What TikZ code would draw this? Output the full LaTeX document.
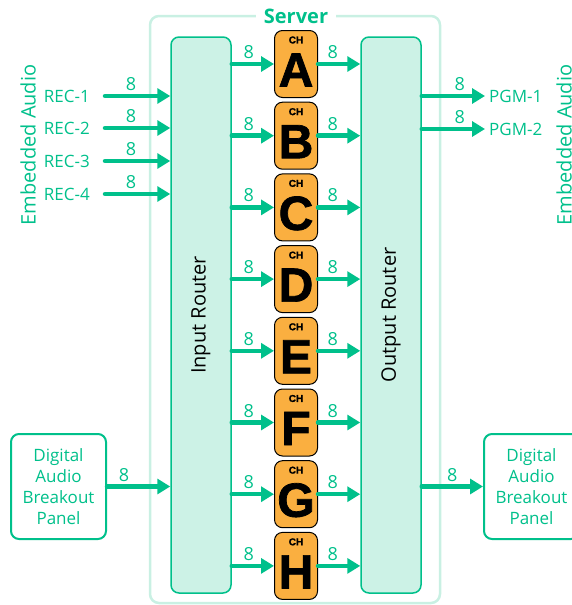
\documentclass[tikz,border=0pt]{standalone}
\usepackage{fontspec}
\setmainfont{Open Sans}
\newfontfamily\chfont[BoldFeatures={FakeBold=1.5}]{Liberation Sans}
\usetikzlibrary{arrows.meta,positioning}
\definecolor{sgreen}{HTML}{00C08B}
\definecolor{smint}{HTML}{CCF2E6}
\definecolor{sframe}{HTML}{C9F0E3}
\definecolor{chorange}{HTML}{FAAF40}

\begin{document}
\begin{tikzpicture}[x=1pt, y=-1pt,
	every node/.style={font=\fontsize{17}{21}\selectfont, text=sgreen, inner sep=1pt},
	sig/.style={-{Triangle[length=13pt,width=15pt]}, line width=4.5pt, draw=sgreen, line cap=round},
	router/.style={draw=sgreen, line width=1.5pt, fill=smint, rounded corners=8pt,
		minimum width=60pt, minimum height=556pt, text=black},
	chbox/.style={draw=black, line width=1pt, fill=chorange, rounded corners=8pt,
		minimum width=43pt, minimum height=67pt, text=black, inner sep=0pt},
	panel/.style={draw=sgreen, line width=2pt, rounded corners=8pt, fill=white,
		minimum width=95pt, minimum height=105pt, align=center},
	cnt/.style={above=2pt, font=\fontsize{18}{18}\selectfont}]
	\useasboundingbox (0,0) rectangle (571,605);
	% server frame
	\draw[sframe, line width=2.5pt, rounded corners=9pt] (150,16) rectangle (440,603);
	\node[fill=white, inner xsep=8pt, font=\fontsize{20}{20}\selectfont\bfseries] (srv) at (296,16) {Server};
	% routers
	\node[router] (inr) at (201,315) {};
	\node[rotate=90, text=black, font=\fontsize{20}{20}\selectfont] at (inr) {Input Router};
	\node[router] (outr) at (391,315) {};
	\node[rotate=90, text=black, font=\fontsize{20}{20}\selectfont] at (outr) {Output Router};
	% channels
	\foreach \ch [count=\i from 0] in {A,B,C,D,E,F,G,H} {
		\node[chbox] (ch\ch) at (296,64+\i*71.7) {};
		\node[text=black, font=\chfont\fontsize{10}{10}\selectfont\bfseries] at ([yshift=-10pt]ch\ch.north) {CH};
		\node[text=black, font=\chfont\fontsize{48}{48}\selectfont\bfseries] at ([yshift=-6pt]ch\ch.center) {\ch};
		\draw[sig] (inr.east |- ch\ch) -- (ch\ch.west) node[cnt, pos=0.4] {8};
		\draw[sig] (ch\ch.east) -- (outr.west |- ch\ch) node[cnt, pos=0.35] {8};
	}
	% embedded inputs
	\foreach \j/\y in {1/96,2/128,3/161,4/194} {
		\node[anchor=east] (rec\j) at (91,\y) {REC-\j};
		\draw[sig] ([xshift=14pt]rec\j.east) -- (inr.west |- rec\j) node[cnt, pos=0.4] {8};
	}
	% embedded outputs
	\foreach \j/\y in {1/96,2/129} {
		\node[anchor=west] (pgm\j) at (488,\y) {PGM-\j};
		\draw[sig] (outr.east |- pgm\j) -- ([xshift=-3pt]pgm\j.west) node[cnt, pos=0.6] {8};
	}
	\node[rotate=90, font=\fontsize{20}{20}\selectfont] (embl) at (28,145) {Embedded Audio};
	\node[rotate=90, font=\fontsize{20}{20}\selectfont] (embr) at (564,145) {Embedded Audio};
	% breakout panels
	\node[panel] (dabl) at (58.5,486.5) {Digital\\Audio\\Breakout\\Panel};
	\node[panel] (dabr) at (531.5,486.5) {Digital\\Audio\\Breakout\\Panel};
	\draw[sig] (dabl.east) -- (inr.west |- dabl) node[cnt, pos=0.27] {8};
	\draw[sig] (outr.east |- dabr) -- (dabr.west) node[cnt, midway] {8};
\end{tikzpicture}
\end{document}
